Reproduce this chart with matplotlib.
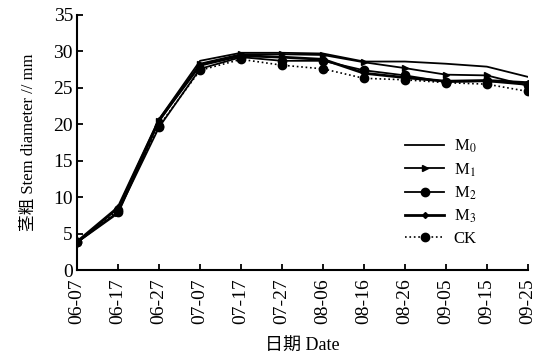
import matplotlib
matplotlib.use("Agg")
import matplotlib.pyplot as plt
import numpy as np

plt.rcParams['font.family'] = ['Liberation Serif', 'Noto Sans CJK SC']
plt.rcParams['mathtext.fontset'] = 'stix'

dates = ['06-07', '06-17', '06-27', '07-07', '07-17', '07-27', '08-06',
         '08-16', '08-26', '09-05', '09-15', '09-25']
m0 = [3.8, 8.5, 20.7, 28.7, 29.8, 29.8, 29.7, 28.6, 28.6, 28.3, 27.9, 26.5]
m1 = [3.8, 7.8, 20.4, 28.3, 29.6, 29.6, 29.5, 28.5, 27.7, 26.8, 26.7, 25.3]
m2 = [3.8, 8.0, 19.6, 27.6, 29.2, 28.7, 28.7, 27.4, 26.7, 25.8, 25.9, 25.4]
m3 = [3.9, 8.6, 20.6, 28.1, 29.4, 29.2, 28.9, 27.0, 26.4, 25.9, 26.0, 25.7]
ck = [3.8, 8.2, 19.8, 27.4, 28.9, 28.1, 27.6, 26.3, 26.1, 25.7, 25.5, 24.5]

x = np.arange(len(dates))

fig = plt.figure(figsize=(5.51, 3.54), dpi=100)
ax = fig.add_axes([0.140, 0.237, 0.818, 0.721])

ax.plot(x, m0, color='black', lw=1.3, label='M$_0$')
ax.plot(x, m1, color='black', lw=1.3, marker='>', ms=5, label='M$_1$')
ax.plot(x, m2, color='black', lw=1.3, marker='o', ms=6, label='M$_2$')
ax.plot(x, m3, color='black', lw=2.0, marker='D', ms=3, label='M$_3$')
ax.plot(x, ck, color='black', lw=1.2, ls=':', marker='o', ms=6, label='CK')

ax.set_xlim(0, 11)
ax.set_ylim(0, 35)
ax.set_xticks(x)
ax.set_xticklabels(dates, rotation=90, fontsize=14)
ax.set_yticks(np.arange(0, 36, 5))
ax.tick_params(axis='y', labelsize=14, direction='in', length=4, width=1.3, pad=3)
ax.tick_params(axis='x', direction='in', length=4, width=1.3, pad=6)
for s in ['top', 'right']:
    ax.spines[s].set_visible(False)
for s in ['left', 'bottom']:
    ax.spines[s].set_linewidth(1.5)

ax.set_ylabel('茎粗 Stem diameter // mm', fontsize=12, labelpad=12)
ax.set_xlabel('日期 Date', fontsize=13, labelpad=10)

ax.legend(loc='upper left', bbox_to_anchor=(0.71, 0.55), frameon=False,
          fontsize=12, handlelength=2.3, labelspacing=0.35, handletextpad=0.6,
          borderpad=0)

fig.savefig('out.png', dpi=100)
